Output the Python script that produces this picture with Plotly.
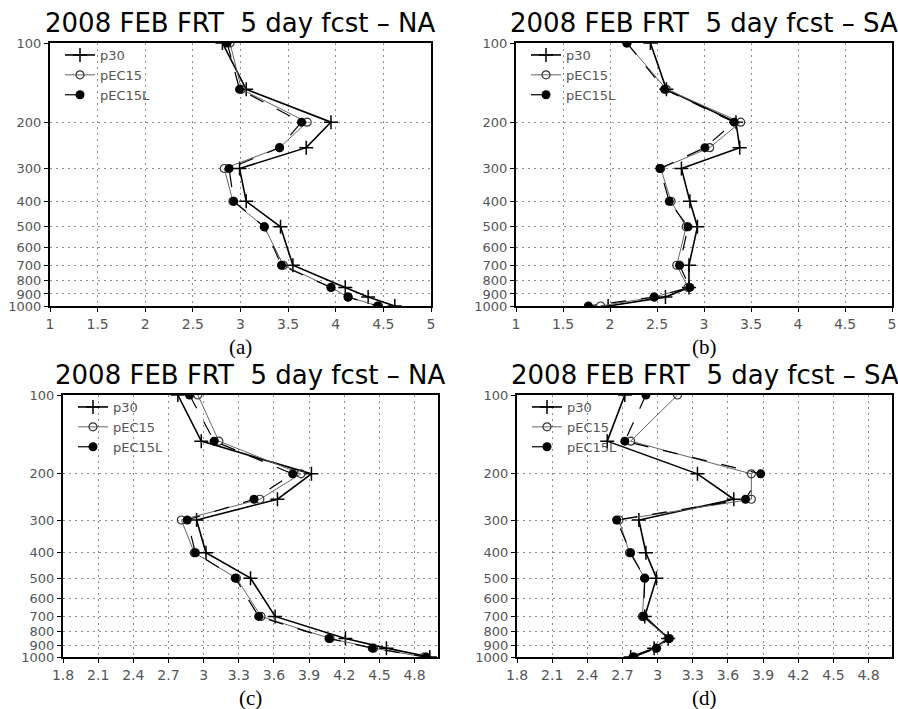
import plotly.graph_objects as go

levels = [100, 150, 200, 250, 300, 400, 500, 700, 850, 925, 1000]

# Panel (a) NA, 1..5
a_p30    = [2.81, 3.06, 3.95, 3.69, 2.99, 3.06, 3.42, 3.55, 4.10, 4.34, 4.62]
a_pEC15  = [2.89, 3.01, 3.70, 3.41, 2.83, 2.92, 3.25, 3.45, 3.95, 4.13, 4.45]
a_pEC15L = [2.86, 2.99, 3.64, 3.41, 2.88, 2.93, 3.25, 3.43, 3.95, 4.13, 4.44]

# Panel (b) SA, 1..5
b_p30    = [2.43, 2.60, 3.34, 3.38, 2.76, 2.85, 2.93, 2.84, 2.84, 2.59, 1.98]
b_pEC15  = [2.18, 2.60, 3.39, 3.06, 2.54, 2.65, 2.81, 2.71, 2.83, 2.47, 1.90]
b_pEC15L = [2.18, 2.58, 3.32, 3.01, 2.53, 2.63, 2.83, 2.74, 2.85, 2.47, 1.77]

# Panel (c) NA, 1.8..5
c_p30    = [2.78, 2.98, 3.92, 3.63, 2.94, 3.02, 3.40, 3.61, 4.21, 4.56, 4.93]
c_pEC15  = [2.95, 3.13, 3.83, 3.48, 2.81, 2.92, 3.28, 3.49, 4.08, 4.45, 4.88]
c_pEC15L = [2.88, 3.09, 3.76, 3.43, 2.86, 2.93, 3.27, 3.47, 4.07, 4.44, 4.90]

# Panel (d) SA, 1.8..5
d_p30    = [2.72, 2.57, 3.34, 3.65, 2.84, 2.90, 2.99, 2.89, 3.09, 2.97, 2.77]
d_pEC15  = [3.17, 2.77, 3.80, 3.80, 2.67, 2.76, 2.89, 2.87, 3.09, 2.99, 2.80]
d_pEC15L = [2.90, 2.72, 3.88, 3.75, 2.65, 2.77, 2.89, 2.88, 3.10, 2.99, 2.79]

y_ticks = [100, 200, 300, 400, 500, 600, 700, 800, 900, 1000]
y_ticktext = ["100", "200", "300", "400", "500", "600", "700", "800", "900", "1000"]
x_ticks_ab = [1, 1.5, 2, 2.5, 3, 3.5, 4, 4.5, 5]
x_ticktext_ab = ["1", "1.5", "2", "2.5", "3", "3.5", "4", "4.5", "5"]
x_ticks_cd = [1.8, 2.1, 2.4, 2.7, 3.0, 3.3, 3.6, 3.9, 4.2, 4.5, 4.8]
x_ticktext_cd = ["1.8", "2.1", "2.4", "2.7", "3", "3.3", "3.6", "3.9", "4.2", "4.5", "4.8"]

titles = ["2008 FEB FRT  5 day fcst \u2013 NA", "2008 FEB FRT  5 day fcst \u2013 SA",
          "2008 FEB FRT  5 day fcst \u2013 NA", "2008 FEB FRT  5 day fcst \u2013 SA"]
captions = ["(a)", "(b)", "(c)", "(d)"]

W, H = 898, 709
# plot areas in pixels: (x0, x1, ytop, ybottom)
boxes = [(50, 431, 43, 306), (516, 892, 43, 306), (63, 438, 395, 657), (517, 892, 395, 657)]
data = [(a_p30, a_pEC15, a_pEC15L), (b_p30, b_pEC15, b_pEC15L),
        (c_p30, c_pEC15, c_pEC15L), (d_p30, d_pEC15, d_pEC15L)]
xranges = [[1, 5], [1, 5], [1.8, 5.0], [1.8, 5.0]]

fig = go.Figure()
grid = dict(showgrid=True, gridcolor="#8a8a8a", griddash="2px,4px", gridwidth=1)
frame = dict(showline=True, mirror=True, linecolor="black", linewidth=2,
             ticks="outside", ticklen=4, tickcolor="black", zeroline=False)
xfont = dict(family="DejaVu Sans", size=14, color="#555555")
yfont = dict(family="DejaVu Sans", size=13, color="#555555")
annotations = []
for i in range(4):
    n = "" if i == 0 else str(i + 1)
    xa, ya = "x" + n, "y" + n
    leg = "legend" + n
    p30, e15, e15l = data[i]
    fig.add_trace(go.Scatter(x=p30, y=levels, xaxis=xa, yaxis=ya, name="p30", legend=leg,
                             mode="lines+markers", line=dict(color="black", width=1.6),
                             marker=dict(symbol="cross-thin", size=10, line=dict(color="black", width=1.5))))
    fig.add_trace(go.Scatter(x=e15, y=levels, xaxis=xa, yaxis=ya, name="pEC15", legend=leg,
                             mode="lines+markers", line=dict(color="#666666", width=1),
                             marker=dict(symbol="circle-open", size=8, color="#333333", line=dict(width=1.2))))
    fig.add_trace(go.Scatter(x=e15l, y=levels, xaxis=xa, yaxis=ya, name="pEC15L", legend=leg,
                             mode="lines+markers", line=dict(color="black", width=1.2, dash="longdash"),
                             marker=dict(symbol="circle", size=9, color="black")))
    x0, x1, yt, yb = boxes[i]
    dx = [x0 / W, x1 / W]
    dy = [1 - yb / H, 1 - yt / H]
    ab = i < 2
    fig.layout["xaxis" + n] = dict(domain=dx, anchor=ya, range=xranges[i],
                                   tickvals=x_ticks_ab if ab else x_ticks_cd,
                                   ticktext=x_ticktext_ab if ab else x_ticktext_cd,
                                   tickfont=xfont, **frame, **grid)
    fig.layout["yaxis" + n] = dict(domain=dy, anchor=xa, type="log", range=[3, 2],
                                   tickvals=y_ticks, ticktext=y_ticktext,
                                   tickfont=yfont, **frame, **grid)
    fig.layout[leg] = dict(x=dx[0] + 10 / W, y=dy[1] + 3 / H, xanchor="left", yanchor="top",
                           bgcolor="rgba(255,255,255,0)", borderwidth=0,
                           font=dict(family="DejaVu Sans", size=13, color="#555555"),
                           tracegroupgap=0, itemwidth=30)
    cx = (x0 + x1) / 2 / W
    annotations.append(dict(text=titles[i], x=cx, y=1 - (yt - 20) / H, xref="paper", yref="paper",
                            showarrow=False, xanchor="center", yanchor="middle",
                            font=dict(family="DejaVu Sans", size=26, color="black")))
    annotations.append(dict(text=captions[i], x=cx, y=1 - (yb + 41) / H, xref="paper", yref="paper",
                            showarrow=False, xanchor="center", yanchor="middle",
                            font=dict(family="Liberation Serif", size=21, color="black")))

fig.update_layout(width=W, height=H, margin=dict(l=0, r=0, t=0, b=0, pad=0, autoexpand=False),
                  paper_bgcolor="white", plot_bgcolor="white",
                  annotations=annotations, showlegend=True)
fig.write_html("out.html", config={"displayModeBar": False},
               post_script="document.body.style.margin='0px';document.body.style.overflow='hidden';")
